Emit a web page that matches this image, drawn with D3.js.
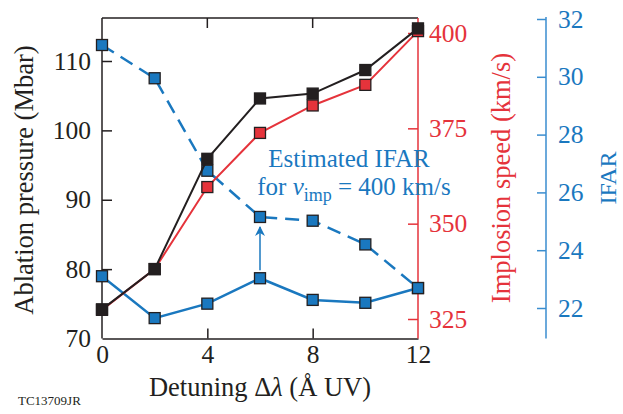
<!DOCTYPE html>
<html>
<head>
<meta charset="UTF-8">
</head>
<body style="margin:0">
<script src="https://d3js.org/d3.v7.min.js"></script>
<script>
var width = 623, height = 414;
var black = "#231f20", red = "#e5333b", blue = "#1a78bf", axisBlue = "#3a8dcf";
var serif = "Liberation Serif";

// data
var detuning = [0, 2, 4, 6, 8, 10, 12];
var pressure = [74.2, 80.0, 95.9, 104.6, 105.3, 108.7, 114.7];      // Mbar
var speed = [327.4, 338.1, 359.6, 373.8, 381.0, 386.4, 400.5];      // km/s
var ifarEst = [31.1, 29.95, 26.75, 25.15, 25.02, 24.2, 22.69];      // at v_imp = 400 km/s
var ifar = [23.1, 21.65, 22.15, 23.03, 22.28, 22.18, 22.69];

var xTicks = [0, 4, 8, 12];
var pTicks = [70, 80, 90, 100, 110];
var vTicks = [325, 350, 375, 400];
var iTicks = [22, 24, 26, 28, 30, 32];

var pLeft = 102, pRight = 418, pTop = 18, pBottom = 338.5, blueX = 546;

var svg = d3.select("body").append("svg").attr("width", width).attr("height", height)
  .attr("font-family", serif);

var x = d3.scaleLinear().domain([0, 12]).range([pLeft, pRight]);
var yP = d3.scaleLinear().domain([70, 110]).range([pBottom, 61]);
var yV = d3.scaleLinear().domain([325, 400]).range([319, 33]);
var yI = d3.scaleLinear().domain([22, 32]).range([308, 19]);

// frame top
svg.append("line").attr("x1", pLeft).attr("x2", pRight).attr("y1", pTop).attr("y2", pTop)
  .attr("stroke", black).attr("stroke-width", 1.5);

// bottom axis
var xAxis = d3.axisBottom(x).tickValues(xTicks).tickSizeInner(-10).tickSizeOuter(0).tickPadding(6);
var gx = svg.append("g").attr("transform", "translate(0," + pBottom + ")").call(xAxis);
gx.selectAll("text").attr("font-size", 25.5).attr("fill", black);
gx.selectAll("line,path").attr("stroke", black).attr("stroke-width", 1.5);
gx.selectAll(".tick").filter(function(d) { return d === 0 || d === 12; }).select("line").remove();

// top ticks
svg.append("g").selectAll("line").data(xTicks.slice(1, 3)).enter().append("line")
  .attr("x1", x).attr("x2", x).attr("y1", pTop).attr("y2", pTop + 10)
  .attr("stroke", black).attr("stroke-width", 1.5);

// left axis
var pAxis = d3.axisLeft(yP).tickValues(pTicks).tickSizeInner(-10).tickSizeOuter(0).tickPadding(11);
var gp = svg.append("g").attr("transform", "translate(" + pLeft + ",0)").call(pAxis);
gp.select(".domain").attr("d", "M0," + pTop + "V" + pBottom);
gp.selectAll("text").attr("font-size", 25.5).attr("fill", black);
gp.selectAll("line,path").attr("stroke", black).attr("stroke-width", 1.5);
gp.selectAll(".tick").filter(function(d) { return d === 70; }).select("line").remove();

// red axis
var vAxis = d3.axisRight(yV).tickValues(vTicks).tickSizeInner(-10).tickSizeOuter(0).tickPadding(11);
var gv = svg.append("g").attr("transform", "translate(" + pRight + ",0)").call(vAxis);
gv.select(".domain").attr("d", "M0," + pTop + "V" + pBottom);
gv.selectAll("text").attr("font-size", 25.5).attr("fill", red);
gv.selectAll("line,path").attr("stroke", red).attr("stroke-width", 1.5);

// blue axis
var iAxis = d3.axisRight(yI).tickValues(iTicks).tickSizeInner(-9).tickSizeOuter(0).tickPadding(12);
var gi = svg.append("g").attr("transform", "translate(" + blueX + ",0)").call(iAxis);
gi.select(".domain").attr("d", "M0,17V" + pBottom);
gi.selectAll("text").attr("font-size", 25.5).attr("fill", blue);
gi.selectAll("line,path").attr("stroke", axisBlue).attr("stroke-width", 1.5);

[gx, gp, gv, gi].forEach(function(g) { g.attr("font-family", serif); });

// axis titles
svg.append("text").attr("transform", "translate(33,180) rotate(-90)").attr("text-anchor", "middle")
  .attr("font-size", 26.5).attr("fill", black).text("Ablation pressure (Mbar)");
svg.append("text").attr("transform", "translate(510,178) rotate(-90)").attr("text-anchor", "middle")
  .attr("font-size", 26.5).attr("fill", red).text("Implosion speed (km/s)");
svg.append("text").attr("transform", "translate(616,178) rotate(-90)").attr("text-anchor", "middle")
  .attr("font-size", 24).attr("fill", blue).text("IFAR");
var xl = svg.append("text").attr("x", 260).attr("y", 396).attr("text-anchor", "middle")
  .attr("font-size", 26.5).attr("fill", black);
xl.append("tspan").text("Detuning \u0394");
xl.append("tspan").attr("font-style", "italic").text("\u03bb");
xl.append("tspan").text(" (\u00c5 UV)");
svg.append("text").attr("x", 18).attr("y", 405).attr("font-size", 13).attr("fill", black).text("TC13709JR");

// annotation
svg.append("text").attr("x", 349).attr("y", 167).attr("text-anchor", "middle")
  .attr("font-size", 25).attr("fill", blue).text("Estimated IFAR");
var ann = svg.append("text").attr("x", 354).attr("y", 195).attr("text-anchor", "middle")
  .attr("font-size", 25).attr("fill", blue);
ann.append("tspan").text("for ");
ann.append("tspan").attr("font-style", "italic").text("v");
ann.append("tspan").attr("font-size", 18).attr("dy", 6).text("imp");
ann.append("tspan").attr("dy", -6).text(" = 400 km/s");

// arrow from measured to estimated IFAR at 6 Å
svg.append("defs").append("marker").attr("id", "head").attr("viewBox", "0 0 10 10")
  .attr("refX", 9).attr("refY", 5).attr("markerWidth", 10).attr("markerHeight", 10)
  .attr("markerUnits", "userSpaceOnUse").attr("orient", "auto")
  .append("path").attr("d", "M0,0L10,5L0,10L3,5Z").attr("fill", blue);
svg.append("line").attr("x1", x(6)).attr("x2", x(6))
  .attr("y1", yI(ifar[3]) - 8).attr("y2", yI(ifarEst[3]) + 10)
  .attr("stroke", blue).attr("stroke-width", 1.5).attr("marker-end", "url(#head)");

function series(vals, yScale, color, dash, fill, sw) {
  var pts = detuning.map(function(d, i) { return [d, vals[i]]; });
  var line = d3.line().x(function(d) { return x(d[0]); }).y(function(d) { return yScale(d[1]); });
  svg.append("path").datum(pts).attr("d", line).attr("fill", "none")
    .attr("stroke", color).attr("stroke-width", sw).attr("stroke-dasharray", dash);
  svg.append("g").selectAll("rect").data(pts).enter().append("rect")
    .attr("x", function(d) { return x(d[0]) - 5.5; })
    .attr("y", function(d) { return yScale(d[1]) - 5.5; })
    .attr("width", 11).attr("height", 11)
    .attr("fill", fill).attr("stroke", black).attr("stroke-width", 1.3);
}

series(ifarEst, yI, blue, "14,8", blue, 2.5);
series(ifar, yI, blue, null, blue, 2.5);
series(speed, yV, red, null, red, 2);
series(pressure, yP, black, null, black, 2);
</script>
</body>
</html>
